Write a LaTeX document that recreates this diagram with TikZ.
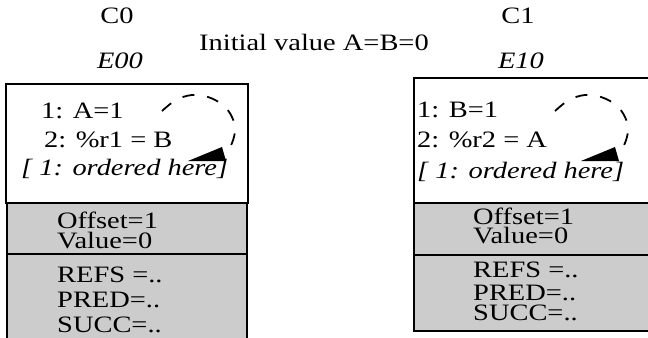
\documentclass[tikz,border=0pt]{standalone}
\usepackage{fontspec}
\setmainfont{Liberation Serif}
\newcommand\hstr[1]{\scalebox{1.21}[1]{#1}}
\begin{document}
\begin{tikzpicture}[x=1bp,y=-1bp,
  txt/.style={inner sep=0pt,anchor=base west,font=\fontsize{23.5bp}{27bp}\selectfont},
  ttl/.style={inner sep=0pt,anchor=base,font=\fontsize{23.5bp}{27bp}\selectfont},
  boxline/.style={draw=black,line width=1.8bp},
  grayfill/.style={boxline,fill=graybg},
  loopline/.style={line width=1.8bp,dash pattern=on 12bp off 13bp},
]
\definecolor{graybg}{RGB}{204,204,204}
\useasboundingbox (0,0) rectangle (648,337);
\clip (0,0) rectangle (648,337);
\fill[white] (0,0) rectangle (648,337);

% titles
\node[ttl] (c0) at (117,23) {\hstr{C0}};
\node[ttl] (e00) at (120,68) {\hstr{\itshape E00}};
\node[txt] (init) at (199,50) {\hstr{Initial value A=B=0}};
\node[ttl] (c1) at (518,23) {\hstr{C1}};
\node[ttl] (e10) at (521,68) {\hstr{\itshape E10}};

% left boxes
\draw[boxline,fill=white] (6,84) rectangle (248,203);
\draw[grayfill] (7,203) rectangle (247,254);
\draw[grayfill] (7,254) rectangle (247,350);

\node[txt] (la1) at (41,118) {\hstr{1: A=1}};
\node[txt] (la2) at (44,147) {\hstr{2: \%r1 = B}};
\node[txt] (la3) at (21,175) {\hstr{\itshape [ 1: ordered here]}};
\node[txt] (lo) at (57,228) {\hstr{Offset=1}};
\node[txt] (lv) at (57,248) {\hstr{Value=0}};
\node[txt] (lr) at (57,282) {\hstr{REFS =..}};
\node[txt] (lp) at (57,307) {\hstr{PRED=..}};
\node[txt] (ls) at (57,332) {\hstr{SUCC=..}};

% right boxes
\draw[boxline,fill=white] (414,78) rectangle (665,203);
\draw[grayfill] (414,203) rectangle (665,255);
\draw[grayfill] (414,255) rectangle (665,331);

\node[txt] (rb1) at (417,117) {\hstr{1: B=1}};
\node[txt] (rb2) at (417,147) {\hstr{2: \%r2 = A}};
\node[txt] (rb3) at (417,178) {\hstr{\itshape [ 1: ordered here]}};
\node[txt] (ro) at (473,224) {\hstr{Offset=1}};
\node[txt] (rv) at (473,243) {\hstr{Value=0}};
\node[txt] (rr) at (473,277) {\hstr{REFS =..}};
\node[txt] (rp) at (473,300) {\hstr{PRED=..}};
\node[txt] (rs) at (473,320) {\hstr{SUCC=..}};

% self-loop arrows
\foreach \dx in {0,393}{
  \begin{scope}[shift={(\dx,0)}]
    \draw[loopline] plot[smooth,tension=0.6] coordinates
      {(162,111) (176,100) (192,95) (208,97) (223,105) (232,117) (235,130) (232,143) (226,153)};
    \fill[black] (188,161) -- (222,147) -- (226,161) -- cycle;
  \end{scope}
}
\end{tikzpicture}
\end{document}
